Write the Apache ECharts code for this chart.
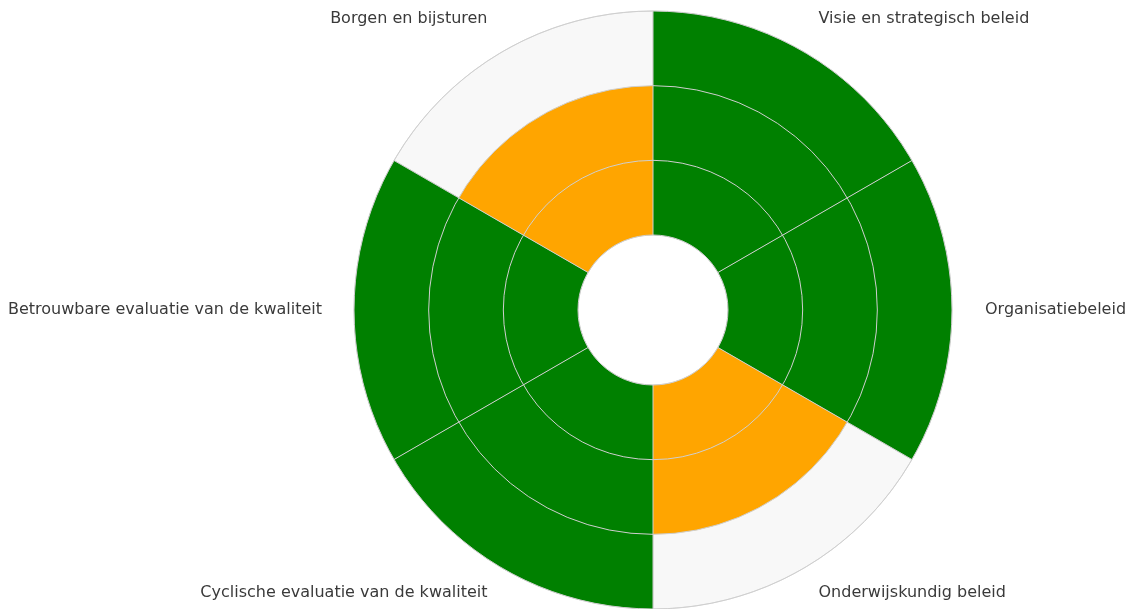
<!DOCTYPE html>
<html>
<head>
<meta charset="utf-8">
<script src="https://cdn.jsdelivr.net/npm/echarts@6/dist/echarts.min.js"></script>
<style>
  html, body { margin: 0; padding: 0; background: #fff; }
  #main { width: 1127px; height: 609px; }
</style>
</head>
<body>
<div id="main"></div>
<script>
const categories = [
  'Visie en strategisch beleid',
  'Organisatiebeleid',
  'Onderwijskundig beleid',
  'Cyclische evaluatie van de kwaliteit',
  'Betrouwbare evaluatie van de kwaliteit',
  'Borgen en bijsturen'
];
const scores = [3, 3, 2, 3, 3, 2];
const maxScore = 3;

var chartDom = document.getElementById('main');
var myChart = echarts.init(chartDom);
var option;

// label nudges [top, right, bottom, left] per sector
const labelPadding = [
  [0, 0, 12, 9],
  [0, 0, 14, 19],
  [4, 0, 0, 9],
  [4, 9, 0, 0],
  [0, 18, 14, 0],
  [0, 9, 12, 0]
];

option = {
  backgroundColor: '#ffffff',
  textStyle: { fontFamily: 'DejaVu Sans' },
  polar: {
    center: [653, 310],
    radius: [75, 299]
  },
  angleAxis: {
    type: 'category',
    data: categories.map(function (c, i) {
      return { value: c, textStyle: { padding: labelPadding[i] } };
    }),
    startAngle: 90,
    clockwise: true,
    z: 10,
    axisTick: { show: false },
    axisLine: { show: false },
    splitLine: {
      show: true,
      lineStyle: { color: '#cfcfcf', width: 1 }
    },
    axisLabel: {
      margin: 14,
      fontSize: 16,
      color: '#3a3a3a',
      fontFamily: 'DejaVu Sans'
    }
  },
  radiusAxis: {
    min: 0,
    max: maxScore,
    interval: 1,
    z: 10,
    axisLine: { show: false },
    axisTick: { show: false },
    axisLabel: { show: false },
    splitLine: {
      show: true,
      lineStyle: { color: '#cfcfcf', width: 1 }
    }
  },
  series: [
    {
      type: 'bar',
      coordinateSystem: 'polar',
      barCategoryGap: '0%',
      showBackground: true,
      backgroundStyle: {
        color: '#f8f8f8',
        borderColor: '#dddddd',
        borderWidth: 1
      },
      silent: true,
      data: scores.map(function (s) {
        return {
          value: s,
          itemStyle: { color: s >= maxScore ? '#008000' : '#ffa500' }
        };
      })
    }
  ]
};

option && myChart.setOption(option);
</script>
</body>
</html>
